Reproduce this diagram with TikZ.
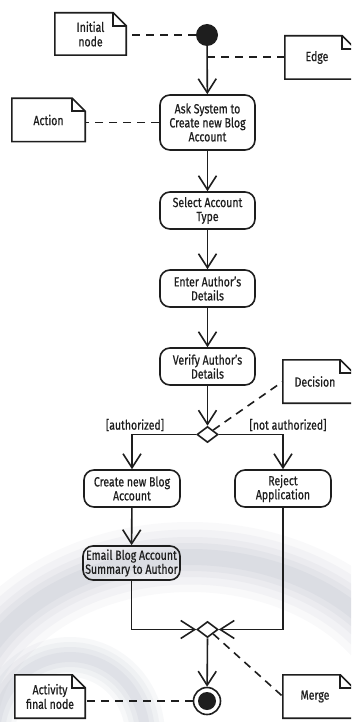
\documentclass[tikz,border=0pt]{standalone}
\usepackage{fontspec}
\setmainfont{Fira Sans}[FakeStretch=0.79,FakeBold=0.6]
\usetikzlibrary{arrows.meta,shapes.geometric}
\definecolor{ink}{HTML}{1E1E1E}
\definecolor{haze}{HTML}{9AA2B4}
\tikzset{
  base/.style={line width=1.6pt, draw=ink},
  act/.style={base, rectangle, rounded corners=10pt, align=center, inner sep=0pt,
    font=\fontsize{13.3}{14}\selectfont, text=ink},
  notebox/.style={rectangle, align=center, inner sep=0pt,
    font=\fontsize{13.3}{14.5}\selectfont, text=ink},
  noteline/.style={line width=1.6pt, draw=ink, fill=white},
  flow/.style={line width=1.6pt, draw=ink, -{Straight Barb[length=14pt,width=18pt,line width=1.6pt]}},
  dashlink/.style={line width=1.6pt, draw=ink, dash pattern=on 8pt off 6pt},
  choice/.style={base, diamond, fill=white, minimum width=21pt, minimum height=16pt, inner sep=0pt},
  guard/.style={font=\fontsize{13.3}{14}\selectfont, text=ink, inner sep=0pt}
}
\newcommand\dogear[1]{%
  \draw[noteline] (#1.north west) -- ([xshift=-13pt]#1.north east)
    -- ([yshift=-13pt]#1.north east) -- (#1.south east) -- (#1.south west) -- cycle;
  \draw[noteline, fill=none] ([xshift=-13pt]#1.north east) |- ([yshift=-13pt]#1.north east);}
\begin{document}
\begin{tikzpicture}[x=1pt,y=-1pt]
\useasboundingbox (0,0) rectangle (351,722);
\clip (0,0) rectangle (351,722);
\fill[white] (0,0) rectangle (351,722);

% soft swirl printed behind the lower part of the diagram
\begin{scope}
  \foreach \w/\o in {70/0.06, 55/0.07, 40/0.08, 28/0.09, 16/0.1}
    \draw[line width=\w pt, draw=haze, opacity=\o] (190,732) ellipse (228 and 175);
  \foreach \w/\o in {40/0.07, 30/0.08, 20/0.09, 10/0.1}
    \draw[line width=\w pt, draw=haze, opacity=\o] (70,735) ellipse (75 and 78);
\end{scope}

% activity nodes
\node[circle, fill=ink, minimum size=22pt, inner sep=0pt] (init) at (207,35) {};
\node[act, minimum width=95pt, minimum height=55pt] (ask) at (207.5,122.5) {Ask System to\\Create new Blog\\Account};
\node[act, minimum width=95pt, minimum height=37pt] (select) at (207.5,210.5) {Select Account\\Type};
\node[act, minimum width=95pt, minimum height=37pt] (enter) at (207.5,288.5) {Enter Author's\\Details};
\node[act, minimum width=95pt, minimum height=37pt] (verify) at (207.5,366.5) {Verify Author's\\Details};
\node[choice] (dec) at (207.5,434.5) {};
\node[act, minimum width=96pt, minimum height=37pt] (create) at (132,488.5) {Create new Blog\\Account};
\node[act, minimum width=96pt, minimum height=37pt] (reject) at (283,488.5) {Reject\\Application};
\node[act, minimum width=97pt, minimum height=34pt] (email) at (131.5,563) {Email Blog Account\\Summary to Author};
\node[choice] (merge) at (207.5,629.5) {};
\node[circle, base, fill=white, minimum size=27pt, inner sep=0pt] (final) at (207,701) {};
\fill[ink] (final.center) circle (9pt);

% guards
\node[guard] (gauth) at (135,425) {[authorized]};
\node[guard] (gnot) at (288,425) {[not authorized]};

% control flow
\draw[flow] (init) -- (ask);
\draw[flow] (ask) -- (select);
\draw[flow] (select) -- (enter);
\draw[flow] (enter) -- (verify);
\draw[flow] (verify) -- (dec.north);
\draw[flow] (dec.west) -| (create.north);
\draw[flow] (dec.east) -| (reject.north);
\draw[flow] (create) -- (email);
\draw[flow] (email.south) |- (merge.west);
\draw[flow] (reject.south) |- (merge.east);
\draw[flow] (merge.south) -- (final);

% notes
\path (90.5,34) node[notebox, minimum width=71pt, minimum height=42pt] (ninit) {};
\dogear{ninit}
\node[notebox] at (ninit) {Initial\\node};
\path (320,57.5) node[notebox, minimum width=70pt, minimum height=43pt] (nedge) {};
\dogear{nedge}
\node[notebox] at ([xshift=-3pt]nedge.center) {Edge};
\path (48.5,120) node[notebox, minimum width=73pt, minimum height=43pt] (nact) {};
\dogear{nact}
\node[notebox] at (nact) {Action};
\path (318,381.5) node[notebox, minimum width=70pt, minimum height=43pt] (ndec) {};
\dogear{ndec}
\node[notebox] at ([xshift=-3pt]ndec.center) {Decision};
\path (50,696.5) node[notebox, minimum width=70pt, minimum height=43pt] (nfinal) {};
\dogear{nfinal}
\node[notebox] at (nfinal) {Activity\\final node};
\path (318,696.5) node[notebox, minimum width=70pt, minimum height=43pt] (nmerge) {};
\dogear{nmerge}
\node[notebox] at ([xshift=-3pt]nmerge.center) {Merge};

% note anchors
\coordinate (edgept) at (207,57);
\draw[dashlink] (init.west) -- (init.west -| ninit.east);
\draw[dashlink] (edgept) -- (edgept -| nedge.west);
\draw[dashlink] (ask.west) -- (ask.west -| nact.east);
\draw[dashlink] (dec.north east) -- (ndec.west);
\draw[dashlink] (merge.south east) -- (nmerge.west);
\draw[dashlink] (final.west) -- (final.west -| nfinal.east);
\end{tikzpicture}
\end{document}
